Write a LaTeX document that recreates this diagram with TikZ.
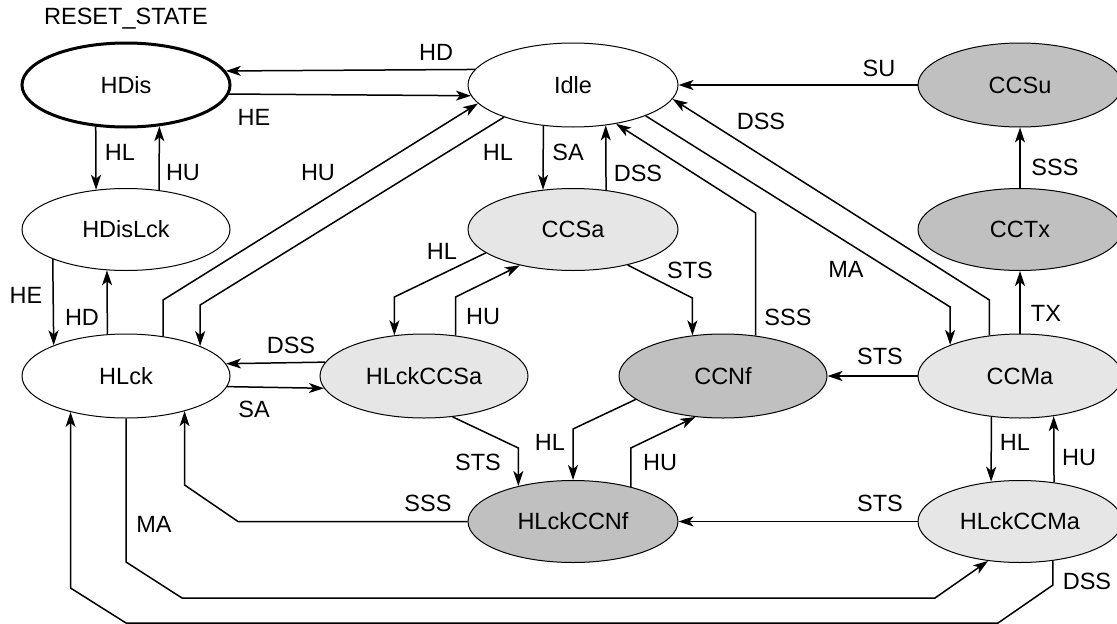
\documentclass[tikz,border=0pt]{standalone}
\usepackage{fontspec}
\setmainfont{Liberation Sans}
\usetikzlibrary{arrows.meta,shapes.geometric}
\definecolor{lightfill}{HTML}{E6E6E6}
\definecolor{darkfill}{HTML}{C0C0C0}
\begin{document}
\begin{tikzpicture}[x=1pt,y=-1pt,
  font=\fontsize{23.5}{28}\selectfont,
  state/.style={ellipse, draw, line width=1pt, inner sep=0pt, minimum width=208pt, minimum height=84pt},
  rcol/.style={minimum width=204pt},
  slim/.style={minimum height=82pt},
  wide/.style={minimum width=210pt},
  lite/.style={fill=lightfill},
  dark/.style={fill=darkfill},
  conn/.style={line width=1.5pt, -{Stealth[length=15pt,width=10pt,inset=4pt]}},
  lbl/.style={inner sep=0pt}]
\useasboundingbox (0,0) rectangle (1117,624);

% states
\node[state, line width=3pt] (HDis) at (126,85) {HDis};
\node[state, wide] (Idle) at (573,85) {Idle};
\node[state, rcol, dark] (CCSu) at (1020,85) {CCSu};
\node[state, slim] (HDisLck) at (126,229.5) {HDisLck};
\node[state, slim, wide, lite] (CCSa) at (573,229.5) {CCSa};
\node[state, slim, rcol, dark] (CCTx) at (1020,229.5) {CCTx};
\node[state] (HLck) at (126,376) {HLck};
\node[state, lite] (HLckCCSa) at (424,376) {HLckCCSa};
\node[state, dark] (CCNf) at (723,376) {CCNf};
\node[state, rcol, lite] (CCMa) at (1020,376) {CCMa};
\node[state, slim, wide, dark] (HLckCCNf) at (573,521.5) {HLckCCNf};
\node[state, slim, rcol, lite] (HLckCCMa) at (1020,521.5) {HLckCCMa};

\node[lbl] (reset) at (126,18.5) {RESET\_STATE};

% connectors
\draw[conn] (Idle.171.3) -- (HDis.8.8);
\draw[conn] (HDis.-5.65) -- (Idle.-174.4);
\draw[conn] (HDis.-126.7) -- (HDisLck.127.4);
\draw[conn] (HDisLck.50.6) -- (HDis.-51.3);
\draw[conn] (HDisLck.-158.2) -- (HLck.157.7);
\draw[conn] (HLck.114.7) -- (HDisLck.-115.2);
\draw[conn] (HLck.47.6) -- (HLck.47.6 |- 0,300) -- (Idle.-169.6);
\draw[conn] (Idle.-155.1) -- (HLck.22.3 |- 0,305) -- (HLck.22.3);
\draw[conn] (Idle.-126.7) -- (CCSa.127.4);
\draw[conn] (CCSa.50.6) -- (Idle.-51.3);
\draw[conn] (CCSu.west) -- (Idle.east);
\draw[conn] (CCMa.127.8) -- (CCMa.127.8 |- 0,300) -- (Idle.-8.6);
\draw[conn] (Idle.-23.3) -- (CCMa.156.5 |- 0,307) -- (CCMa.156.5);
\draw[conn] (CCNf.51.3) -- (CCNf.51.3 |- 0,213) -- (Idle.-42.5);
\draw[conn] (CCTx.north) -- (CCSu.south);
\draw[conn] (CCMa.north) -- (CCTx.south);
\draw[conn] (CCSa.-165.7) -- (HLckCCSa.126.7 |- 0,297) -- (HLckCCSa.126.7);
\draw[conn] (HLckCCSa.52.3) -- (HLckCCSa.52.3 |- 0,297) -- (CCSa.-146.9);
\draw[conn] (CCSa.-33.1) -- (CCNf.127.7 |- 0,298) -- (CCNf.127.7);
\draw[conn] (HLckCCSa.172.5) -- (HLck.7.5);
\draw[conn] (HLck.-6.9) -- (HLckCCSa.-173.1);
\draw[conn] (CCMa.west) -- (CCNf.east);
\draw[conn] (HLckCCSa.-55.3) -- (HLckCCNf.147.6 |- 0,448) -- (HLckCCNf.147.6);
\draw[conn] (CCNf.-165.7) -- (HLckCCNf.north |- 0,429) -- (HLckCCNf.north);
\draw[conn] (HLckCCNf.31.1) -- (HLckCCNf.31.1 |- 0,448) -- (CCNf.-124.7);
\draw[conn] (CCMa.-125.7) -- (HLckCCMa.126.4);
\draw[conn] (HLckCCMa.49.6) -- (CCMa.-50.3);
\draw[conn] (HLckCCMa.west) -- (HLckCCNf.east);
\draw[conn] (HLckCCNf.west) -- (HLckCCNf.west -| 238,0) -- (HLck.-31.6 |- 0,485) -- (HLck.-31.6);
\draw[conn] (HLck.south) -- (HLck.south |- 0,562) -- (182,598) -- (935,598) -- (HLckCCMa.-129.4);
\draw[conn] (HLckCCMa.-50.6) -- (HLckCCMa.-50.6 |- 0,585) -- (998,623) -- (126,623) -- (HLck.-147.1 |- 0,588) -- (HLck.-147.1);

% labels
\node[lbl] (l1) at (436,52) {HD};
\node[lbl] (l2) at (254,117) {HE};
\node[lbl] (l3) at (120,152) {HL};
\node[lbl] (l4) at (183,173) {HU};
\node[lbl] (l5) at (318,173) {HU};
\node[lbl] (l6) at (498,152) {HL};
\node[lbl] (l7) at (568,152) {SA};
\node[lbl] (l8) at (638,173) {DSS};
\node[lbl] (l9) at (879,68) {SU};
\node[lbl] (l10) at (761,121) {DSS};
\node[lbl] (l11) at (1055,167) {SSS};
\node[lbl] (l12) at (26,295) {HE};
\node[lbl] (l13) at (82,317) {HD};
\node[lbl] (l14) at (442,251) {HL};
\node[lbl] (l15) at (690,270) {STS};
\node[lbl] (l16) at (846,269) {MA};
\node[lbl] (l17) at (483,317) {HU};
\node[lbl] (l18) at (788,317) {SSS};
\node[lbl] (l19) at (1046,313) {TX};
\node[lbl] (l20) at (291,345) {DSS};
\node[lbl] (l21) at (880,356) {STS};
\node[lbl] (l22) at (254,409) {SA};
\node[lbl] (l23) at (550,442) {HL};
\node[lbl] (l24) at (478,462) {STS};
\node[lbl] (l25) at (660,463) {HU};
\node[lbl] (l26) at (1015,442) {HL};
\node[lbl] (l27) at (1079,458) {HU};
\node[lbl] (l28) at (428,503) {SSS};
\node[lbl] (l29) at (880,503) {STS};
\node[lbl] (l30) at (154,524) {MA};
\node[lbl] (l31) at (1087,581) {DSS};
\end{tikzpicture}
\end{document}
